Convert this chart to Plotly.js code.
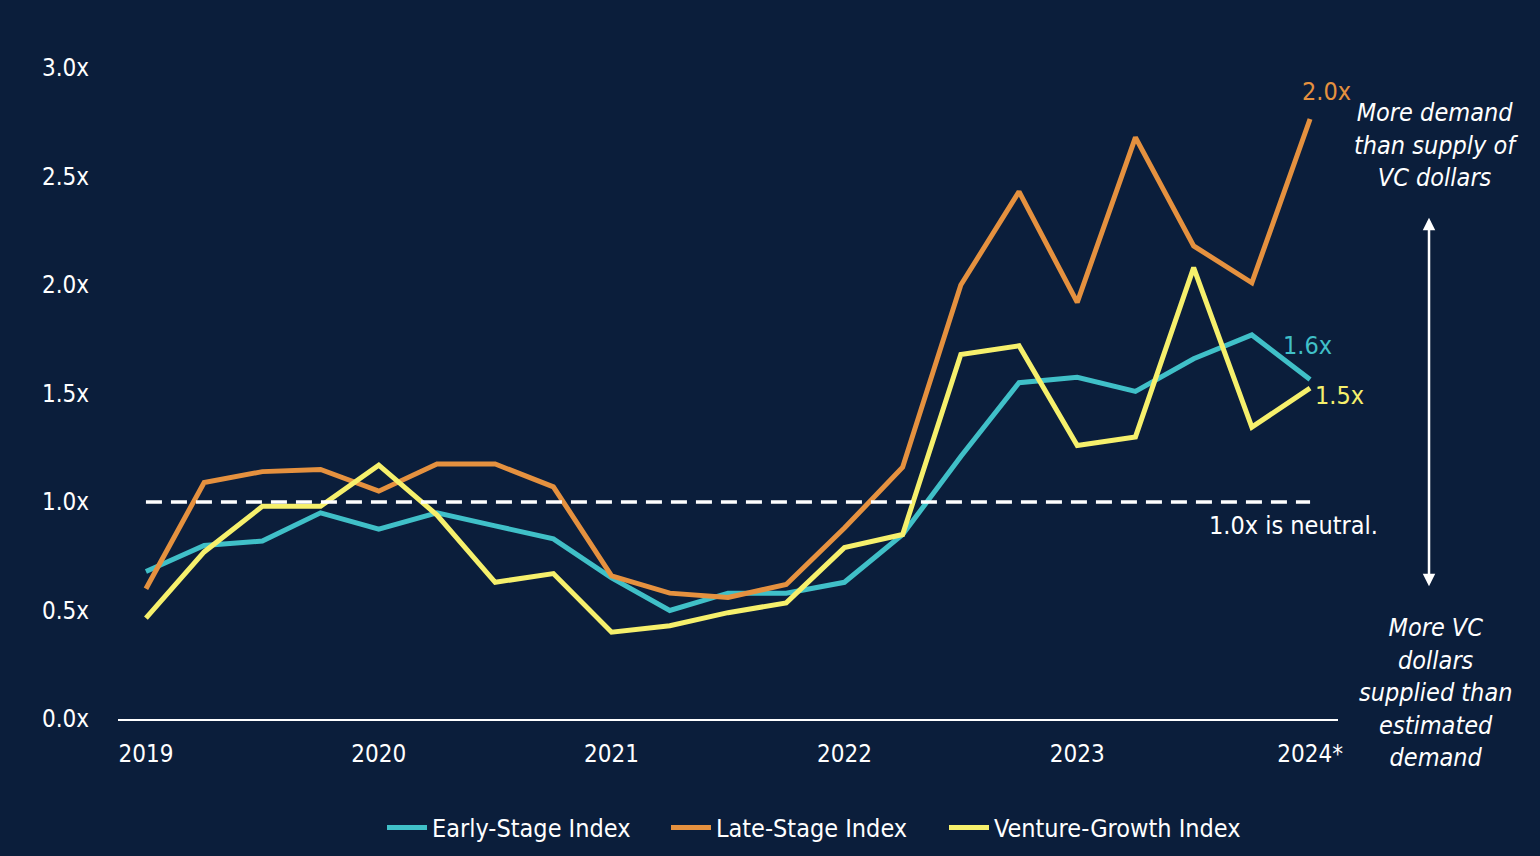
<!DOCTYPE html>
<html>
<head>
<meta charset="utf-8">
<script src="https://cdn.plot.ly/plotly-3.0.1.min.js"></script>
<style>
  html, body { margin: 0; padding: 0; background: #0b1e3b; }
  #chart { width: 1540px; height: 856px; }
</style>
</head>
<body>
<div id="chart"></div>
<script>
var quarters = [
  "2019 Q1", "2019 Q2", "2019 Q3", "2019 Q4",
  "2020 Q1", "2020 Q2", "2020 Q3", "2020 Q4",
  "2021 Q1", "2021 Q2", "2021 Q3", "2021 Q4",
  "2022 Q1", "2022 Q2", "2022 Q3", "2022 Q4",
  "2023 Q1", "2023 Q2", "2023 Q3", "2023 Q4",
  "2024 Q1"
];
var yearTicks = ["2019 Q1", "2020 Q1", "2021 Q1", "2022 Q1", "2023 Q1", "2024 Q1"];
var yearLabels = ["2019", "2020", "2021", "2022", "2023", "2024*"];

var earlyStage = [0.68, 0.80, 0.82, 0.95, 0.875, 0.95, 0.89, 0.83, 0.65, 0.50, 0.58,
                  0.58, 0.63, 0.85, 1.21, 1.55, 1.575, 1.51, 1.66, 1.77, 1.565];
var lateStage = [0.60, 1.09, 1.14, 1.15, 1.05, 1.175, 1.175, 1.07, 0.66, 0.58, 0.56,
                 0.62, 0.88, 1.16, 2.0, 2.43, 1.92, 2.68, 2.18, 2.01, 2.765];
var ventureGrowth = [0.465, 0.77, 0.98, 0.98, 1.17, 0.94, 0.63, 0.67, 0.40, 0.43, 0.49,
                     0.535, 0.79, 0.85, 1.68, 1.72, 1.26, 1.30, 2.08, 1.345, 1.525];

var yTicks = [0, 0.5, 1, 1.5, 2, 2.5, 3];
var yLabels = ["0.0x", "0.5x", "1.0x", "1.5x", "2.0x", "2.5x", "3.0x"];

var FONT = "'DejaVu Sans Condensed', 'DejaVu Sans', sans-serif";
var TEAL = "#40c0c8";
var ORANGE = "#e5913f";
var YELLOW = "#f6f06c";

function txt(size, color, style) {
  return {family: FONT, size: size, color: color, stretch: 'condensed', style: style || 'normal'};
}

function series(name, y, color, legendId) {
  return {
    x: quarters,
    y: y,
    name: name,
    legend: legendId,
    type: 'scatter',
    mode: 'lines',
    line: {color: color, width: 5},
    hoverinfo: 'skip'
  };
}

var data = [
  series('Early-Stage Index', earlyStage, TEAL, 'legend'),
  series('Late-Stage Index', lateStage, ORANGE, 'legend2'),
  series('Venture-Growth Index', ventureGrowth, YELLOW, 'legend3')
];

// one legend per series so the spacing matches the original
function legendAt(x) {
  return {
    orientation: 'h',
    xref: 'container', yref: 'container',
    x: x, xanchor: 'left',
    y: 0.033, yanchor: 'middle',
    font: txt(25, '#ffffff'),
    bgcolor: 'rgba(0,0,0,0)',
    itemwidth: 40
  };
}

var layout = {
  width: 1540,
  height: 856,
  paper_bgcolor: '#0b1e3b',
  plot_bgcolor: '#0b1e3b',
  margin: {l: 118, r: 202, t: 68, b: 137},
  font: txt(24, '#ffffff'),
  showlegend: true,
  legend: legendAt(382 / 1540),
  legend2: legendAt(666 / 1540),
  legend3: legendAt(944 / 1540),
  xaxis: {
    type: 'category',
    range: [-0.48, 20.48],
    tickmode: 'array',
    tickvals: yearTicks,
    ticktext: yearLabels,
    showgrid: false,
    zeroline: false,
    showline: true,
    linecolor: '#ffffff',
    linewidth: 2,
    ticks: '',
    ticklabelstandoff: 12,
    tickfont: txt(24, '#ffffff'),
    fixedrange: true
  },
  yaxis: {
    range: [0, 3],
    tickmode: 'array',
    tickvals: yTicks,
    ticktext: yLabels,
    showgrid: false,
    zeroline: false,
    showline: false,
    ticks: '',
    ticklabelstandoff: 28,
    tickfont: txt(24, '#ffffff'),
    fixedrange: true
  },
  shapes: [
    {
      type: 'line', xref: 'x', yref: 'y',
      x0: 0, x1: 20, y0: 1, y1: 1,
      line: {color: '#ffffff', width: 3.5, dash: '16px,9px'}
    }
  ],
  annotations: [
    {x: 20.28, y: 2.89, xref: 'x', yref: 'y', text: '2.0x', showarrow: false,
     font: txt(25, ORANGE)},
    {x: 19.95, y: 1.72, xref: 'x', yref: 'y', text: '1.6x', showarrow: false,
     font: txt(25, TEAL)},
    {x: 20.05, y: 1.49, xref: 'x', yref: 'y', text: '1.5x', showarrow: false, xanchor: 'left',
     font: txt(25, YELLOW)},
    {x: 19.72, y: 0.89, xref: 'x', yref: 'y', text: '1.0x is neutral.', showarrow: false,
     font: txt(25, '#ffffff')},
    {x: 1.08, y: 2.645 / 3, xref: 'paper', yref: 'paper', xanchor: 'center', yanchor: 'middle',
     showarrow: false, text: 'More demand<br>than supply of<br>VC dollars',
     font: txt(25, '#ffffff', 'italic'), align: 'center'},
    {x: 1.08, y: 0.12 / 3, xref: 'paper', yref: 'paper', xanchor: 'center', yanchor: 'middle',
     showarrow: false, text: 'More VC<br>dollars<br>supplied than<br>estimated<br>demand',
     font: txt(25, '#ffffff', 'italic'), align: 'center'},
    {x: 1.0746, y: 2.31 / 3, xref: 'paper', yref: 'paper', ax: 0, ay: 370,
     text: '', showarrow: true, arrowside: 'end+start', arrowhead: 2, startarrowhead: 2,
     arrowsize: 1, startarrowsize: 1, arrowwidth: 2.5, arrowcolor: '#ffffff'}
  ]
};

Plotly.newPlot('chart', data, layout, {displayModeBar: false, staticPlot: true});
</script>
</body>
</html>
